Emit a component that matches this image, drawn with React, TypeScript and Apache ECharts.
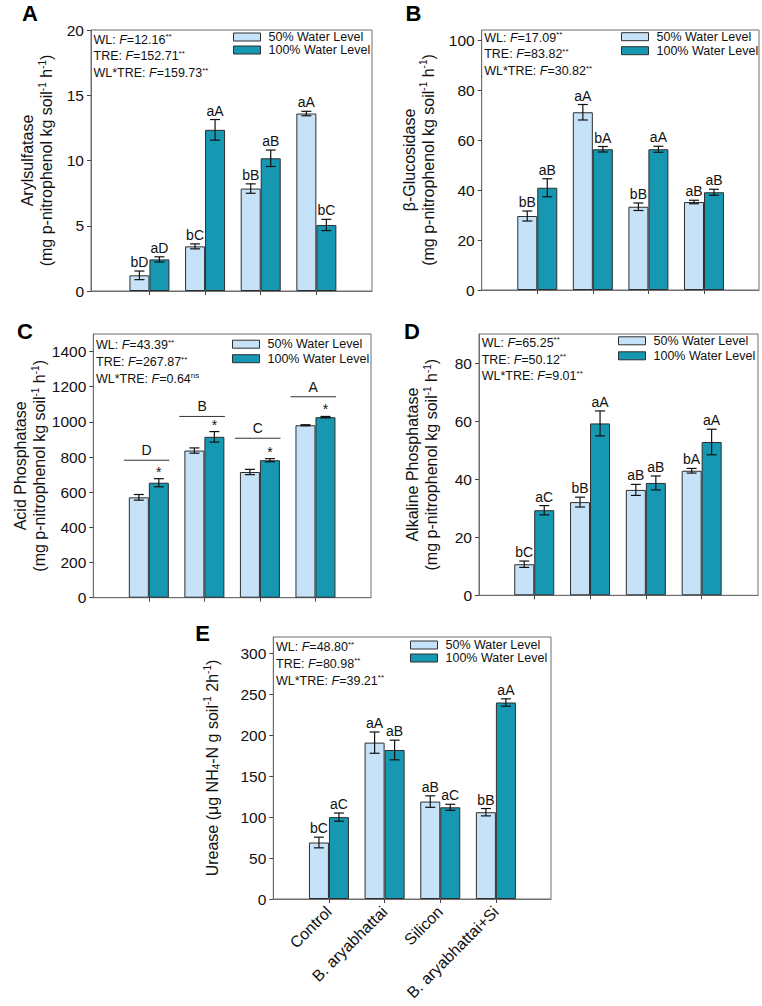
import { useEffect, useRef } from 'react';
import * as echarts from 'echarts';

const FONT = '"Liberation Sans", Arial, Helvetica, sans-serif';
const LIGHT = '#c5e2f9';
const DARK = '#1697b2';
const EDGE = '#2e2e2e';
const FRAME = '#6e6e6e';
const INK = '#111111';
const BAR_W = 20;

const categories = ['Control', 'B. aryabhattai', 'Silicon', 'B. aryabhattai+Si'];
const seriesNames = ['50% Water Level', '100% Water Level'];
const statNames = ['WL', 'TRE', 'WL*TRE'];

// A: Arylsulfatase
const arylLow = [1.2, 3.42, 7.85, 13.6];
const arylLowErr = [0.33, 0.19, 0.36, 0.17];
const arylHigh = [2.42, 12.35, 10.17, 5.06];
const arylHighErr = [0.2, 0.79, 0.63, 0.43];
const arylLowLetters = ['bD', 'bC', 'bB', 'aA'];
const arylHighLetters = ['aD', 'aA', 'aB', 'bC'];
const arylTicks = [0, 5, 10, 15, 20];
const arylStats = ['12.16', '152.71', '159.73'];
const arylSig = ['**', '**', '**'];

// B: beta-Glucosidase
const glucLow = [29.6, 71.1, 33.3, 35.2];
const glucLowErr = [2.0, 3.1, 1.5, 0.7];
const glucHigh = [40.9, 56.3, 56.3, 39.1];
const glucHighErr = [3.6, 1.1, 1.2, 1.2];
const glucLowLetters = ['bB', 'aA', 'bB', 'aB'];
const glucHighLetters = ['aB', 'bA', 'aA', 'aB'];
const glucTicks = [0, 20, 40, 60, 80, 100];
const glucStats = ['17.09', '83.82', '30.82'];
const glucSig = ['**', '**', '**'];

// C: Acid Phosphatase
const acidLow = [571, 837, 715, 981];
const acidLowErr = [16, 15, 15, 3];
const acidHigh = [654, 915, 782, 1027];
const acidHighErr = [23, 30, 9, 4];
const acidLowLetters = ['', '', '', ''];
const acidHighLetters = ['*', '*', '*', '*'];
const acidGroupLetters = ['D', 'B', 'C', 'A'];
const acidGroupLevel = [782, 1031, 907, 1143];
const acidTicks = [0, 200, 400, 600, 800, 1000, 1200, 1400];
const acidStats = ['43.39', '267.87', '0.64'];
const acidSig = ['**', '**', 'ns'];

// D: Alkaline Phosphatase
const alkLow = [10.7, 32.1, 36.3, 42.9];
const alkLowErr = [1.1, 1.7, 1.9, 0.8];
const alkHigh = [29.3, 59.2, 38.7, 52.8];
const alkHighErr = [1.6, 4.3, 2.4, 4.4];
const alkLowLetters = ['bC', 'bB', 'aB', 'bA'];
const alkHighLetters = ['aC', 'aA', 'aB', 'aA'];
const alkTicks = [0, 20, 40, 60, 80];
const alkStats = ['65.25', '50.12', '9.01'];
const alkSig = ['**', '**', '**'];

// E: Urease
const ureLow = [69, 191, 119, 106];
const ureLowErr = [6.5, 13, 7, 4.5];
const ureHigh = [100, 182, 112, 240];
const ureHighErr = [5, 12, 3.7, 4.5];
const ureLowLetters = ['bC', 'aA', 'aB', 'bB'];
const ureHighLetters = ['aC', 'aB', 'aC', 'aA'];
const ureTicks = [0, 50, 100, 150, 200, 250, 300];
const ureStats = ['48.80', '80.98', '39.21'];
const ureSig = ['**', '**', '**'];

const unitLine = '{t|(mg p-nitrophenol kg soil}{sup|-1}{t| h}{sup|-1}{t|)}';

const panels = [
  {
    tag: 'A', yName: '{t|Arylsulfatase}\n' + unitLine, yMax: 20, ticks: arylTicks,
    low: arylLow, lowErr: arylLowErr, high: arylHigh, highErr: arylHighErr,
    lowLetters: arylLowLetters, highLetters: arylHighLetters, stats: arylStats, sig: arylSig,
    grid: { left: 91, top: 30, width: 281, height: 261 }, xMin: -1.05, xMax: 4.0,
    nameGap: 35, legend: [233, 30.5], legendGap: 0, annot: [93.5, 39.5], tagPos: [30, 13],
  },
  {
    tag: 'B', yName: '{t|β-Glucosidase}\n' + unitLine, yMax: 104, ticks: glucTicks,
    low: glucLow, lowErr: glucLowErr, high: glucHigh, highErr: glucHighErr,
    lowLetters: glucLowLetters, highLetters: glucHighLetters, stats: glucStats, sig: glucSig,
    grid: { left: 481.7, top: 30, width: 277.3, height: 260 }, xMin: -1.0, xMax: 3.99,
    nameGap: 44, legend: [621, 30.2], legendGap: 1, annot: [484.2, 37.5], tagPos: [413.5, 13],
  },
  {
    tag: 'C', yName: '{t|Acid Phosphatase}\n' + unitLine, yMax: 1500, ticks: acidTicks,
    low: acidLow, lowErr: acidLowErr, high: acidHigh, highErr: acidHighErr,
    lowLetters: acidLowLetters, highLetters: acidHighLetters, stats: acidStats, sig: acidSig,
    grid: { left: 93.3, top: 334, width: 277.7, height: 263.7 }, xMin: -1.0, xMax: 4.0,
    nameGap: 34, legend: [232, 337.7], legendGap: 1.5, annot: [96, 345.3], tagPos: [25, 331],
  },
  {
    tag: 'D', yName: '{t|Alkaline Phosphatase}\n' + unitLine, yMax: 90, ticks: alkTicks,
    low: alkLow, lowErr: alkLowErr, high: alkHigh, highErr: alkHighErr,
    lowLetters: alkLowLetters, highLetters: alkHighLetters, stats: alkStats, sig: alkSig,
    grid: { left: 479, top: 334, width: 279, height: 261.3 }, xMin: -0.99, xMax: 4.01,
    nameGap: 38, legend: [618, 334.3], legendGap: 2, annot: [481.7, 342.7], tagPos: [412, 331],
  },
  {
    tag: 'E', yName: '{t|Urease (μg NH}{sub|4}{t|-N g soil}{sup|-1}{t| 2h}{sup|-1}{t|)}', yMax: 320, ticks: ureTicks,
    low: ureLow, lowErr: ureLowErr, high: ureHigh, highErr: ureHighErr,
    lowLetters: ureLowLetters, highLetters: ureHighLetters, stats: ureStats, sig: ureSig,
    grid: { left: 273.3, top: 637, width: 277.7, height: 262 }, xMin: -1.0, xMax: 3.99,
    nameGap: 51.5, legend: [410, 638.5], legendGap: 0, annot: [276, 647], tagPos: [202.5, 633],
    showCategories: true,
  },
];

const categoryIndex = categories.map((_, i) => i);

function errorSeries(axis: number, side: number, means: number[], errs: number[], letters: string[]) {
  return {
    type: 'custom',
    name: 'err' + axis + '_' + side,
    xAxisIndex: axis,
    yAxisIndex: axis,
    z: 10,
    silent: true,
    data: means.map((m, i) => [i, m, errs[i]]),
    encode: { x: 0, y: 1 },
    renderItem: (params: any, api: any) => {
      const i = api.value(0);
      const m = api.value(1);
      const e = api.value(2);
      const top = api.coord([i, m + e]);
      const bottom = api.coord([i, m - e]);
      const x = top[0] + side * BAR_W / 2;
      const cap = 5;
      const stroke = { stroke: INK, lineWidth: 1.2 };
      const label = letters[params.dataIndex];
      const children: any[] = [
        { type: 'line', shape: { x1: x, y1: top[1], x2: x, y2: bottom[1] }, style: stroke },
        { type: 'line', shape: { x1: x - cap, y1: top[1], x2: x + cap, y2: top[1] }, style: stroke },
        { type: 'line', shape: { x1: x - cap, y1: bottom[1], x2: x + cap, y2: bottom[1] }, style: stroke },
      ];
      if (label) {
        children.push({
          type: 'text',
          x,
          y: top[1] - (label === '*' ? 0 : 2),
          style: {
            text: label, fill: INK, fontSize: 14, fontFamily: FONT,
            align: 'center', verticalAlign: 'bottom',
          },
        });
      }
      return { type: 'group', children };
    },
  };
}

const groupLineSeries = {
  type: 'custom',
  name: 'groups',
  xAxisIndex: 2,
  yAxisIndex: 2,
  z: 10,
  silent: true,
  data: acidGroupLevel.map((v, i) => [i, v]),
  encode: { x: 0, y: 1 },
  renderItem: (params: any, api: any) => {
    const i = api.value(0);
    const v = api.value(1);
    const a = api.coord([i - 0.45, v]);
    const b = api.coord([i + 0.37, v]);
    return {
      type: 'group',
      children: [
        { type: 'line', shape: { x1: a[0], y1: a[1], x2: b[0], y2: b[1] }, style: { stroke: '#333', lineWidth: 1 } },
        {
          type: 'text', x: (a[0] + b[0]) / 2, y: a[1] - 3,
          style: {
            text: acidGroupLetters[params.dataIndex], fill: INK, fontSize: 14, fontFamily: FONT,
            align: 'center', verticalAlign: 'bottom',
          },
        },
      ],
    };
  },
};

const nameRich = {
  t: { fontSize: 16, lineHeight: 19, fontFamily: FONT, color: INK },
  sup: { fontSize: 10, lineHeight: 10, verticalAlign: 'top', fontFamily: FONT, color: INK },
  sub: { fontSize: 10, lineHeight: 10, verticalAlign: 'bottom', fontFamily: FONT, color: INK },
};

const statRich = {
  n: { fontSize: 12.5, lineHeight: 14, fontFamily: FONT, color: INK },
  i: { fontSize: 12.5, lineHeight: 14, fontFamily: FONT, fontStyle: 'italic', color: INK },
  s: { fontSize: 8, lineHeight: 8, verticalAlign: 'top', fontFamily: FONT, color: INK },
};

function buildOption() {
  const grid: any[] = [];
  const xAxis: any[] = [];
  const yAxis: any[] = [];
  const legend: any[] = [];
  const series: any[] = [];
  const graphic: any[] = [];

  panels.forEach((p, k) => {
    grid.push({ ...p.grid, show: true, borderColor: FRAME, borderWidth: 1, backgroundColor: 'transparent' });
    xAxis.push({
      type: 'value', gridIndex: k, min: p.xMin, max: p.xMax,
      axisLine: { show: true, onZero: false, lineStyle: { color: FRAME, width: 1 } },
      axisTick: { show: true, length: 4, customValues: categoryIndex, lineStyle: { color: '#444' } },
      axisLabel: {
        show: !!p.showCategories, customValues: categoryIndex, rotate: 45, margin: 10,
        fontSize: 16, fontFamily: FONT, color: INK,
        formatter: (v: number) => categories[Math.round(v)] ?? '',
      },
      splitLine: { show: false },
    });
    yAxis.push({
      type: 'value', gridIndex: k, min: 0, max: p.yMax,
      name: p.yName, nameLocation: 'middle', nameGap: p.nameGap, nameRotate: 90,
      nameTextStyle: { rich: nameRich, fontFamily: FONT, color: INK },
      axisLine: { show: true, onZero: false, lineStyle: { color: FRAME, width: 1 } },
      axisTick: { show: true, length: 4, customValues: p.ticks, lineStyle: { color: '#444' } },
      axisLabel: {
        customValues: p.ticks, fontSize: 15.5, fontFamily: FONT, color: INK, margin: 7,
        formatter: (v: number) => String(v),
      },
      splitLine: { show: false },
    });
    legend.push({
      orient: 'vertical', left: p.legend[0], top: p.legend[1], padding: 0,
      itemWidth: 27, itemHeight: 8, itemGap: p.legendGap, icon: 'rect', selectedMode: false,
      data: seriesNames,
      itemStyle: { borderColor: EDGE, borderWidth: 1 },
      textStyle: { fontFamily: FONT, fontSize: 12.5, lineHeight: 13, color: INK, padding: [0, 0, 0, 3] },
    });
    series.push({
      type: 'bar', name: seriesNames[0], xAxisIndex: k, yAxisIndex: k,
      barWidth: BAR_W, barGap: '0%',
      itemStyle: { color: LIGHT, borderColor: EDGE, borderWidth: 1 },
      data: p.low.map((v, i) => [i, v]),
    });
    series.push({
      type: 'bar', name: seriesNames[1], xAxisIndex: k, yAxisIndex: k,
      barWidth: BAR_W, barGap: '0%',
      itemStyle: { color: DARK, borderColor: EDGE, borderWidth: 1 },
      data: p.high.map((v, i) => [i, v]),
    });
    series.push(errorSeries(k, -1, p.low, p.lowErr, p.lowLetters));
    series.push(errorSeries(k, 1, p.high, p.highErr, p.highLetters));

    graphic.push({
      type: 'text', x: p.tagPos[0], y: p.tagPos[1],
      style: {
        text: p.tag, fill: '#000', fontSize: 22, fontWeight: 'bold', fontFamily: FONT,
        align: 'center', verticalAlign: 'middle',
      },
    });
    p.stats.forEach((s, j) => {
      graphic.push({
        type: 'text', x: p.annot[0], y: p.annot[1] + j * 16.8,
        style: {
          text: `{n|${statNames[j]}: }{i|F}{n|=${s}}{s|${p.sig[j]}}`,
          rich: statRich, fill: INK, fontSize: 12.5, fontFamily: FONT,
          align: 'left', verticalAlign: 'middle',
        },
      });
    });
  });
  series.push(groupLineSeries);

  return {
    animation: false,
    backgroundColor: '#ffffff',
    textStyle: { fontFamily: FONT },
    grid, xAxis, yAxis, legend, series, graphic,
  };
}

export default function App() {
  const ref = useRef<HTMLDivElement>(null);
  useEffect(() => {
    if (!ref.current) return;
    const chart = echarts.init(ref.current, undefined, { renderer: 'svg' });
    chart.setOption(buildOption() as any);
    return () => chart.dispose();
  }, []);
  return (
    <div
      ref={ref}
      style={{ position: 'absolute', left: 0, top: 0, width: 762, height: 1006, background: '#fff' }}
    />
  );
}
